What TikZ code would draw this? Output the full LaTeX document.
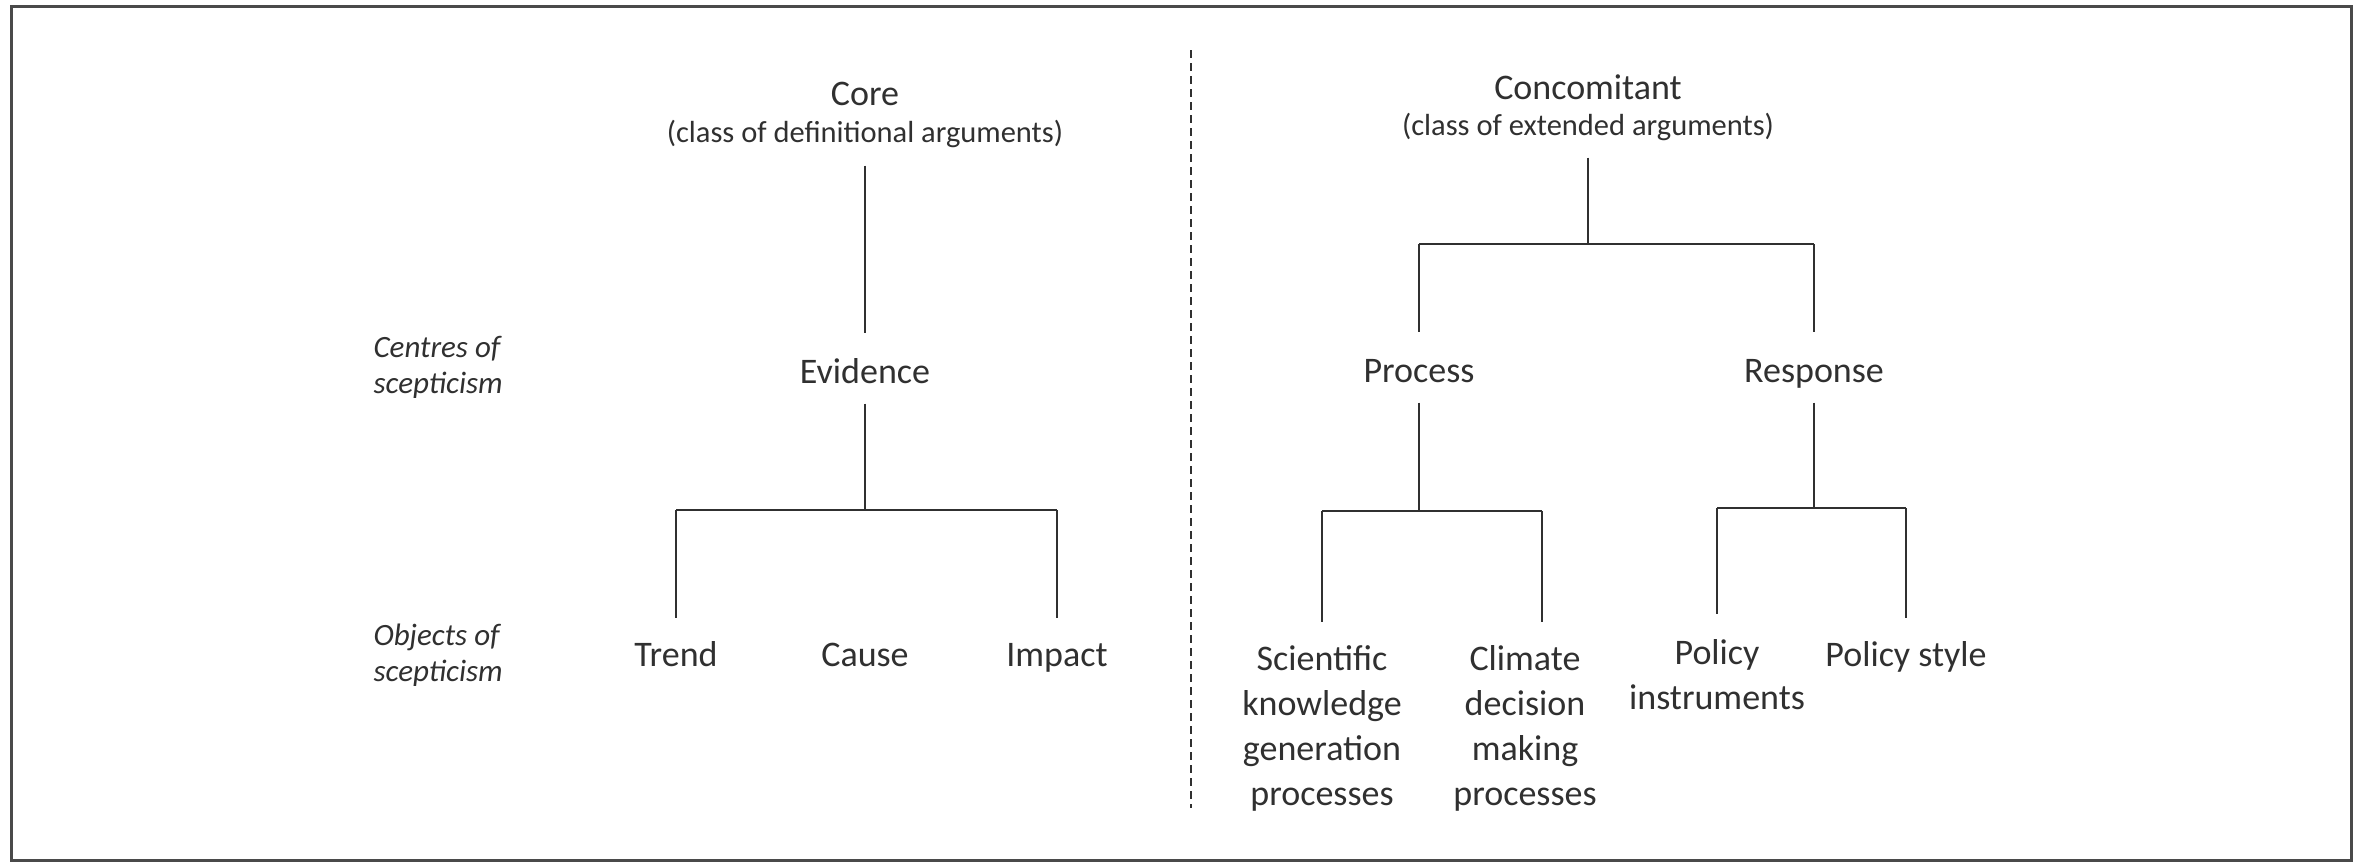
\documentclass[tikz,border=0pt]{standalone}
\usepackage{fontspec}
\setmainfont{Carlito}
\definecolor{ink}{HTML}{303030}
\definecolor{frm}{HTML}{4A4A4A}
\begin{document}
\begin{tikzpicture}[x=0.4pt,y=-0.4pt,
  lbl/.style={inner sep=0pt, anchor=base, text=ink, font=\fontsize{14.4pt}{18pt}\selectfont},
  sublbl/.style={inner sep=0pt, anchor=base, text=ink, font=\fontsize{12.2pt}{14pt}\selectfont},
  side/.style={inner sep=0pt, anchor=base west, text=ink, font=\fontsize{12.4pt}{14.4pt}\selectfont\itshape},
  mid/.style={lbl, text height=20pt, text depth=8pt},
  leaf/.style={lbl, text height=19.2pt},
  conn/.style={draw=ink, line width=0.64pt},
  bar/.style={draw=ink, line width=0.9pt},
  divider/.style={draw=ink, line width=0.5pt, dash pattern=on 3.2pt off 2pt}
]
\useasboundingbox (0,0) rectangle (2364,863);
\draw[frm, line width=1.2pt] (11,6) rectangle (2351,860);

% headings
\node[lbl] (core) at (865,105) {Core};
\node[sublbl, text depth=9.2pt] (coresub) at (865,142) {(class of definitional arguments)};
\node[lbl] (conc) at (1588,99) {Concomitant};
\node[sublbl, text depth=8.8pt] (concsub) at (1588,135) {(class of extended arguments)};

% side labels
\node[side] (centres) at (373,357) {\begin{tabular}[t]{@{}l@{}}Centres of\\scepticism\end{tabular}};
\node[side] (objects) at (373,645) {\begin{tabular}[t]{@{}l@{}}Objects of\\scepticism\end{tabular}};

% centres
\node[mid] (evid) at (865,383) {Evidence};
\node[mid] (proc) at (1419,382) {Process};
\node[mid] (resp) at (1814,382) {Response};

% objects
\node[leaf] (trend) at (676,666) {Trend};
\node[leaf] (cause) at (865,666) {Cause};
\node[leaf] (impact) at (1057,666) {Impact};
\node[leaf] (sci) at (1322,670) {\begin{tabular}[t]{@{}c@{}}Scientific\\knowledge\\generation\\processes\end{tabular}};
\node[leaf] (clim) at (1525,670) {\begin{tabular}[t]{@{}c@{}}Climate\\decision\\making\\processes\end{tabular}};
\node[leaf, text height=20pt] (polins) at (1717,664) {\begin{tabular}[t]{@{}c@{}}Policy\\instruments\end{tabular}};
\node[leaf] (polsty) at (1906,666) {Policy style};

% left tree
\coordinate (ej) at (865,510);
\draw[conn] (coresub.south) -- (evid.north);
\draw[conn] (evid.south) -- (ej);
\draw[bar] (trend.north |- ej) -- (impact.north |- ej);
\draw[conn] (trend.north |- ej) -- (trend.north);
\draw[conn] (impact.north |- ej) -- (impact.north);

% right tree
\coordinate (cj) at (1588,244);
\draw[conn, line width=0.9pt] (concsub.south) -- (cj);
\draw[bar] (proc.north |- cj) -- (resp.north |- cj);
\draw[conn] (proc.north |- cj) -- (proc.north);
\draw[conn] (resp.north |- cj) -- (resp.north);

\coordinate (pj) at (1419,511);
\coordinate (pr) at (1542,511);
\draw[conn] (proc.south) -- (pj);
\draw[bar] (sci.north |- pj) -- (pr);
\draw[conn] (sci.north |- pj) -- (sci.north);
\draw[conn] (pr) -- (pr |- clim.north);

\coordinate (rj) at (1814,508);
\draw[conn] (resp.south) -- (rj);
\draw[bar] (polins.north |- rj) -- (polsty.north |- rj);
\draw[conn] (polins.north |- rj) -- (polins.north);
\draw[conn] (polsty.north |- rj) -- (polsty.north);

% divider
\coordinate (dtop) at (1191,50);
\coordinate (dbot) at (1191,808);
\draw[divider] (dtop) -- (dbot);
\end{tikzpicture}
\end{document}
